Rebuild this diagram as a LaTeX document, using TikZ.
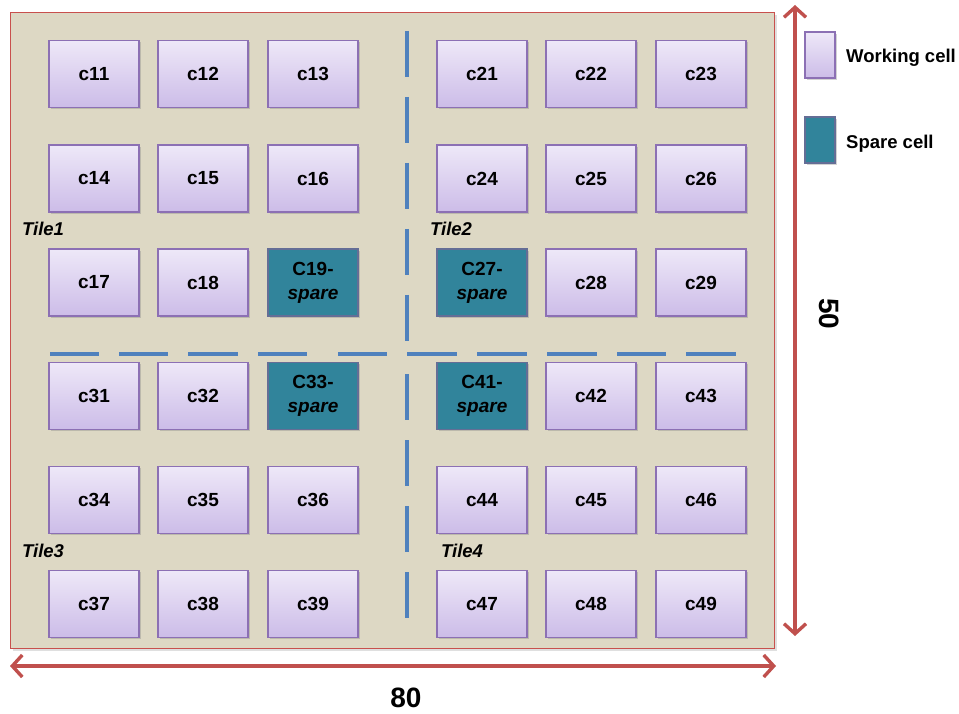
\documentclass[tikz,border=0pt]{standalone}
\usepackage{fontspec}
\setmainfont{Liberation Sans}
\usetikzlibrary{arrows.meta,shadows}
\definecolor{bgtan}{RGB}{221,216,196}
\definecolor{framered}{RGB}{200,80,77}
\definecolor{arrred}{RGB}{192,80,77}
\definecolor{celltop}{RGB}{238,232,248}
\definecolor{cellbot}{RGB}{204,188,232}
\definecolor{cellline}{RGB}{140,112,180}
\definecolor{sparefill}{RGB}{49,132,155}
\definecolor{spareline}{RGB}{100,110,150}
\definecolor{divblue}{RGB}{79,129,189}
\tikzset{
  cellbox/.style={draw=cellline, line width=1.2pt, top color=celltop, bottom color=cellbot,
    minimum width=90pt, minimum height=67pt, inner sep=0pt,
    font=\fontsize{19}{20}\selectfont\bfseries,
    drop shadow={shadow xshift=1.8pt, shadow yshift=-1.8pt, opacity=0.35}},
  sparebox/.style={draw=spareline, line width=1.2pt, fill=sparefill,
    minimum width=90pt, minimum height=67pt, inner sep=0pt, align=center,
    font=\fontsize{19}{24}\selectfont\bfseries,
    drop shadow={shadow xshift=1.8pt, shadow yshift=-1.8pt, opacity=0.35}},
  tilelbl/.style={anchor=west, inner sep=0pt, font=\fontsize{18.5}{20}\selectfont\bfseries\itshape},
  legtxt/.style={anchor=west, inner sep=0pt, font=\fontsize{18.5}{20}\selectfont\bfseries},
  dimtxt/.style={inner sep=0pt, font=\fontsize{28}{30}\selectfont\bfseries},
  divline/.style={draw=divblue, line width=4pt},
  dimarrow/.style={draw=arrred, line width=3.4pt, {Straight Barb[length=10pt,width=22pt,line width=3.4pt]}-{Straight Barb[length=10pt,width=22pt,line width=3.4pt]}},
}
\begin{document}
\begin{tikzpicture}[x=1pt,y=-1pt]
\useasboundingbox (0,0) rectangle (959,714);
% main board
\node[draw=framered, line width=1.2pt, fill=bgtan, minimum width=764pt, minimum height=636pt,
  inner sep=0pt, anchor=north west, drop shadow={shadow xshift=2.5pt, shadow yshift=-2.5pt, opacity=0.25}] (board) at (10,12) {};
% dividers
\foreach \a in {31,97,163,229,295} \draw[divline] (407,\a) -- (407,\a+46);
\foreach \a in {374,440,506,572} \draw[divline] (407,\a) -- (407,\a+46);
\foreach \a/\b in {50/99,119/168,188/238,258/307,338/387,407/457,477/527,547/597,617/666,686/736}
  \draw[divline] (\a,354) -- (\b,354);
% cells
\node[cellbox] (c11) at (94,74) {c11};
\node[cellbox] (c12) at (203,74) {c12};
\node[cellbox] (c13) at (313,74) {c13};
\node[cellbox] (c21) at (482,74) {c21};
\node[cellbox] (c22) at (591,74) {c22};
\node[cellbox] (c23) at (701,74) {c23};
\node[cellbox] (c14) at (94,178.5) {c14};
\node[cellbox] (c15) at (203,178.5) {c15};
\node[cellbox] (c16) at (313,178.5) {c16};
\node[cellbox] (c24) at (482,178.5) {c24};
\node[cellbox] (c25) at (591,178.5) {c25};
\node[cellbox] (c26) at (701,178.5) {c26};
\node[cellbox] (c17) at (94,282.5) {c17};
\node[cellbox] (c18) at (203,282.5) {c18};
\node[sparebox] (c19) at (313,282.5) {C19-\\\textit{spare}};
\node[sparebox] (c27) at (482,282.5) {C27-\\\textit{spare}};
\node[cellbox] (c28) at (591,282.5) {c28};
\node[cellbox] (c29) at (701,282.5) {c29};
\node[cellbox] (c31) at (94,396) {c31};
\node[cellbox] (c32) at (203,396) {c32};
\node[sparebox] (c33) at (313,396) {C33-\\\textit{spare}};
\node[sparebox] (c41) at (482,396) {C41-\\\textit{spare}};
\node[cellbox] (c42) at (591,396) {c42};
\node[cellbox] (c43) at (701,396) {c43};
\node[cellbox] (c34) at (94,500) {c34};
\node[cellbox] (c35) at (203,500) {c35};
\node[cellbox] (c36) at (313,500) {c36};
\node[cellbox] (c44) at (482,500) {c44};
\node[cellbox] (c45) at (591,500) {c45};
\node[cellbox] (c46) at (701,500) {c46};
\node[cellbox] (c37) at (94,604) {c37};
\node[cellbox] (c38) at (203,604) {c38};
\node[cellbox] (c39) at (313,604) {c39};
\node[cellbox] (c47) at (482,604) {c47};
\node[cellbox] (c48) at (591,604) {c48};
\node[cellbox] (c49) at (701,604) {c49};
% tile labels
\node[tilelbl] (t1) at (22,229) {Tile1};
\node[tilelbl] (t2) at (430,229) {Tile2};
\node[tilelbl] (t3) at (22,551) {Tile3};
\node[tilelbl] (t4) at (441,551) {Tile4};
% legend
\node[cellbox, minimum width=30pt, minimum height=46pt] (lw) at (820,55) {};
\node[sparebox, minimum width=30pt, minimum height=46pt] (ls) at (820,140) {};
\node[legtxt] (lwt) at (846,58) {Working cell};
\node[legtxt] (lst) at (846,144) {Spare cell};
% dimensions
\coordinate (hl) at (10,666);
\coordinate (hr) at (776,666);
\coordinate (vt) at (795,5);
\coordinate (vb) at (795,636);
\draw[dimarrow] (hl) -- (hr);
\draw[dimarrow] (vt) -- (vb);
\node[dimtxt] (w80) at (406,698) {80};
\node[dimtxt, rotate=-90] (h50) at (829,314) {50};
\end{tikzpicture}
\end{document}
